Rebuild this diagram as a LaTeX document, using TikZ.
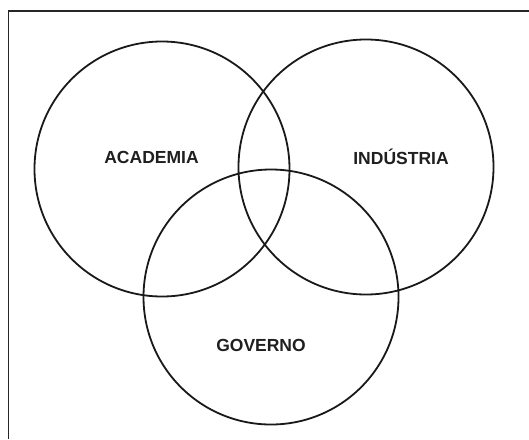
\documentclass[tikz,border=0pt]{standalone}
\usepackage{fontspec}
\setmainfont{Liberation Sans}
\begin{document}
\begin{tikzpicture}[x=1pt,y=-1pt,
  ring/.style={draw=black!90,line width=1.8pt,circle,minimum size=255pt,inner sep=0pt},
  lbl/.style={font=\fontsize{17.5}{20}\selectfont\bfseries,text=black!88,inner sep=0pt},
  frame/.style={draw=black!85,line width=1.5pt}]
\useasboundingbox (0,0) rectangle (529,439);
\fill[white] (0,0) rectangle (529,439);
\coordinate (ftr) at (529,11);
\coordinate (ftl) at (8.3,11);
\coordinate (fbl) at (8.3,439);
\draw[frame] (ftr) -- (ftl) -- (fbl);
\node[ring] (acad) at (162,169) {};
\node[ring] (ind) at (366,167) {};
\node[ring] (gov) at (271,297) {};
\node[lbl] (tacad) at (151.5,157) {ACADEMIA};
\node[lbl] (tind) at (401,157) {INDÚSTRIA};
\node[lbl] (tgov) at (261,345) {GOVERNO};
\end{tikzpicture}
\end{document}
